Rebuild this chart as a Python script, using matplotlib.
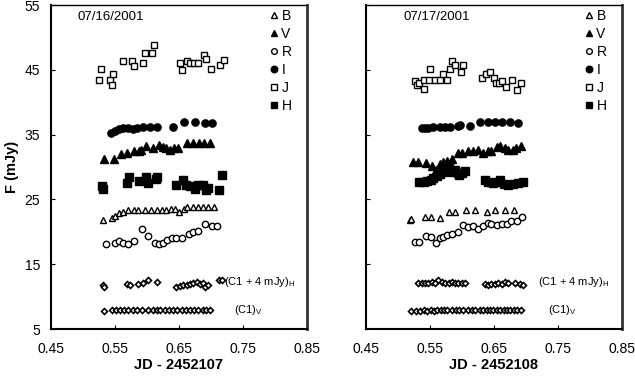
import matplotlib
matplotlib.use("Agg")
import matplotlib.pyplot as plt
from matplotlib.lines import Line2D

plt.rcParams["font.family"] = ["Liberation Sans", "DejaVu Sans"]
plt.rcParams["mathtext.fontset"] = "custom"
plt.rcParams["mathtext.rm"] = "Liberation Sans"

# ---- 07/16/2001 (JD - 2452107) ----
d1_J_x = [0.528, 0.525, 0.542, 0.545, 0.547, 0.563, 0.577, 0.579, 0.594, 0.597, 0.608, 0.611,
          0.652, 0.654, 0.662, 0.667, 0.673, 0.680, 0.689, 0.693, 0.700, 0.714, 0.720]
d1_J_y = [45.2, 43.4, 43.4, 42.7, 44.4, 46.4, 46.4, 45.6, 46.1, 47.6, 47.6, 48.9,
          46.1, 44.9, 46.4, 46.1, 46.1, 46.1, 47.3, 46.6, 45.2, 45.7, 46.5]
d1_I_x = [0.543, 0.550, 0.557, 0.563, 0.571, 0.578, 0.585, 0.594, 0.605, 0.616, 0.641,
          0.658, 0.675, 0.691, 0.701]
d1_I_y = [35.3, 35.6, 35.8, 36.0, 36.0, 35.8, 36.0, 36.1, 36.2, 36.2, 36.2,
          37.0, 37.0, 36.8, 36.8]
d1_V_x = [0.533, 0.548, 0.559, 0.568, 0.579, 0.588, 0.590, 0.598, 0.609, 0.619, 0.625, 0.630,
          0.636, 0.642, 0.649, 0.663, 0.672, 0.682, 0.689, 0.698]
d1_V_y = [31.2, 31.2, 32.0, 32.1, 32.4, 32.4, 32.7, 33.2, 32.9, 33.4, 33.1, 32.9,
          32.6, 32.9, 33.0, 33.7, 33.7, 33.7, 33.7, 33.7]
d1_H_x = [0.529, 0.532, 0.568, 0.572, 0.588, 0.598, 0.602, 0.614, 0.616, 0.646, 0.657, 0.661,
          0.667, 0.675, 0.679, 0.687, 0.692, 0.696, 0.713, 0.718]
d1_H_y = [27.0, 26.6, 27.5, 28.4, 27.9, 28.4, 27.6, 28.1, 28.4, 27.2, 28.0, 27.2,
          27.0, 26.6, 27.2, 27.2, 26.5, 26.7, 26.5, 28.8]
d1_B_x = [0.531, 0.545, 0.550, 0.557, 0.563, 0.571, 0.579, 0.586, 0.597, 0.607, 0.615, 0.623,
          0.630, 0.637, 0.644, 0.650, 0.658, 0.662, 0.672, 0.680, 0.688, 0.696, 0.705]
d1_B_y = [21.8, 22.2, 22.4, 22.9, 23.1, 23.3, 23.3, 23.3, 23.3, 23.3, 23.4, 23.4,
          23.4, 23.5, 23.5, 23.1, 23.5, 23.8, 23.9, 23.9, 23.9, 23.9, 23.9]
d1_R_x = [0.536, 0.550, 0.557, 0.563, 0.571, 0.579, 0.592, 0.602, 0.612, 0.619, 0.625, 0.632,
          0.639, 0.646, 0.654, 0.665, 0.672, 0.680, 0.691, 0.701, 0.710]
d1_R_y = [18.1, 18.3, 18.6, 18.3, 18.1, 18.6, 20.4, 19.4, 18.3, 18.1, 18.3, 18.7,
          19.0, 19.0, 19.0, 19.7, 20.0, 20.2, 21.2, 20.9, 20.9]
d1_C1H_x = [0.531, 0.533, 0.568, 0.573, 0.586, 0.594, 0.602, 0.616, 0.646, 0.652, 0.657, 0.662,
            0.667, 0.672, 0.678, 0.683, 0.687, 0.691, 0.696, 0.713, 0.718]
d1_C1H_y = [11.8, 11.5, 11.9, 11.8, 11.9, 12.1, 12.5, 12.3, 11.5, 11.6, 11.8, 11.8,
            11.9, 12.1, 12.2, 11.9, 12.1, 11.5, 11.8, 12.5, 12.5]
d1_C1V_x = [0.533, 0.545, 0.552, 0.558, 0.564, 0.571, 0.578, 0.585, 0.593, 0.602, 0.609, 0.615,
            0.621, 0.628, 0.635, 0.641, 0.647, 0.654, 0.661, 0.667, 0.673, 0.680, 0.687, 0.693, 0.698]
d1_C1V_y = [7.8, 8.0, 8.0, 7.9, 8.0, 8.0, 8.0, 7.9, 8.0, 8.0, 8.0, 8.0,
            8.0, 8.0, 8.0, 8.0, 8.0, 8.0, 8.0, 8.0, 8.0, 8.0, 8.0, 8.0, 8.0]

# ---- 07/17/2001 (JD - 2452108) ----
d2_J_x = [0.527, 0.530, 0.533, 0.540, 0.541, 0.549, 0.550, 0.558, 0.566, 0.570, 0.577, 0.582,
          0.585, 0.589, 0.598, 0.602, 0.632, 0.637, 0.644, 0.650, 0.653, 0.658, 0.662, 0.669,
          0.678, 0.686, 0.692]
d2_J_y = [43.3, 42.7, 42.9, 42.1, 43.5, 43.5, 45.2, 43.4, 43.4, 44.4, 43.4, 45.2,
          46.4, 45.7, 44.7, 45.7, 43.7, 44.4, 44.6, 43.8, 42.9, 42.9, 43.2, 42.3,
          43.5, 41.9, 43.0]
d2_I_x = [0.537, 0.542, 0.547, 0.555, 0.565, 0.573, 0.581, 0.594, 0.597, 0.613, 0.628,
          0.640, 0.652, 0.662, 0.675, 0.688]
d2_I_y = [36.0, 36.0, 36.0, 36.1, 36.1, 36.2, 36.2, 36.3, 36.5, 36.3, 37.0,
          37.0, 37.0, 37.0, 37.0, 36.8]
d2_V_x = [0.523, 0.532, 0.544, 0.553, 0.560, 0.566, 0.571, 0.576, 0.584, 0.593, 0.600, 0.610,
          0.617, 0.625, 0.633, 0.640, 0.645, 0.654, 0.660, 0.667, 0.672, 0.679, 0.685, 0.692]
d2_V_y = [30.8, 30.7, 30.6, 30.1, 29.6, 30.5, 30.7, 31.0, 31.3, 32.1, 32.2, 32.4,
          32.5, 32.7, 32.1, 32.4, 32.5, 33.1, 33.2, 33.0, 32.7, 32.6, 33.0, 33.2]
d2_H_x = [0.533, 0.540, 0.546, 0.551, 0.555, 0.561, 0.566, 0.571, 0.575, 0.580, 0.584, 0.589,
          0.593, 0.596, 0.600, 0.605, 0.636, 0.641, 0.649, 0.655, 0.659, 0.666, 0.672, 0.680,
          0.688, 0.695]
d2_H_y = [27.7, 27.7, 27.9, 28.0, 28.3, 28.6, 28.9, 29.3, 29.5, 29.8, 29.3, 29.6,
          29.1, 28.8, 29.0, 29.4, 28.0, 27.7, 27.6, 27.7, 28.0, 27.4, 27.2, 27.4,
          27.5, 27.7]
d2_B_x = [0.518, 0.520, 0.542, 0.551, 0.565, 0.579, 0.589, 0.606, 0.620, 0.639, 0.652, 0.667, 0.681]
d2_B_y = [21.8, 21.9, 22.3, 22.3, 22.1, 23.1, 23.1, 23.3, 23.3, 23.1, 23.4, 23.3, 23.3]
d2_R_x = [0.527, 0.533, 0.544, 0.551, 0.560, 0.565, 0.570, 0.577, 0.585, 0.594, 0.601, 0.610,
          0.617, 0.625, 0.633, 0.641, 0.646, 0.654, 0.662, 0.670, 0.677, 0.686, 0.693]
d2_R_y = [18.5, 18.5, 19.4, 19.2, 18.3, 19.0, 19.2, 19.5, 19.7, 19.9, 21.0, 20.8,
          20.9, 20.4, 20.9, 21.4, 21.2, 21.0, 21.2, 21.2, 21.6, 21.7, 22.3]
d2_C1H_x = [0.532, 0.537, 0.542, 0.547, 0.553, 0.558, 0.563, 0.568, 0.573, 0.579, 0.584, 0.589,
            0.594, 0.600, 0.605, 0.636, 0.641, 0.646, 0.652, 0.657, 0.662, 0.667, 0.672, 0.683,
            0.690, 0.696]
d2_C1H_y = [12.1, 12.05, 12.1, 12.1, 12.3, 12.1, 12.6, 12.3, 12.1, 12.1, 12.3, 12.1,
            12.1, 12.1, 12.1, 11.9, 11.8, 11.9, 11.9, 12.05, 11.9, 12.3, 12.05, 12.1,
            11.9, 11.8]
d2_C1V_x = [0.521, 0.528, 0.534, 0.541, 0.546, 0.551, 0.556, 0.561, 0.567, 0.572, 0.577, 0.584,
            0.591, 0.596, 0.601, 0.610, 0.615, 0.620, 0.628, 0.633, 0.639, 0.644, 0.649, 0.654,
            0.659, 0.665, 0.670, 0.675, 0.681, 0.686, 0.692]
d2_C1V_y = [7.8, 7.8, 7.8, 7.9, 7.8, 7.9, 7.8, 7.9, 7.9, 7.9, 7.9, 7.9,
            7.9, 7.9, 7.9, 7.9, 7.9, 7.9, 7.9, 7.9, 7.9, 7.9, 7.9, 7.9,
            7.9, 7.9, 7.9, 7.9, 7.9, 7.9, 7.9]

dates = ["07/16/2001", "07/17/2001"]
xlabels = ["JD - 2452107", "JD - 2452108"]
band_labels = ["B", "V", "R", "I", "J", "H"]

styles = {
    "B": dict(marker="^", mfc="white", ms=4.8),
    "V": dict(marker="^", mfc="black", ms=5.2),
    "R": dict(marker="o", mfc="white", ms=4.6),
    "I": dict(marker="o", mfc="black", ms=5.2),
    "J": dict(marker="s", mfc="white", ms=4.6),
    "H": dict(marker="s", mfc="black", ms=5.2),
    "C1": dict(marker="D", mfc="white", ms=3.0),
}

days = [
    {"B": (d1_B_x, d1_B_y), "V": (d1_V_x, d1_V_y), "R": (d1_R_x, d1_R_y),
     "I": (d1_I_x, d1_I_y), "J": (d1_J_x, d1_J_y), "H": (d1_H_x, d1_H_y),
     "C1H": (d1_C1H_x, d1_C1H_y), "C1V": (d1_C1V_x, d1_C1V_y)},
    {"B": (d2_B_x, d2_B_y), "V": (d2_V_x, d2_V_y), "R": (d2_R_x, d2_R_y),
     "I": (d2_I_x, d2_I_y), "J": (d2_J_x, d2_J_y), "H": (d2_H_x, d2_H_y),
     "C1H": (d2_C1H_x, d2_C1H_y), "C1V": (d2_C1V_x, d2_C1V_y)},
]
label_x = [(0.720, 0.736), (0.718, 0.734)]
date_x = [0.105, 0.148]

fig = plt.figure(figsize=(6.35, 3.79), dpi=100)
axes = [fig.add_axes([0.0803, 0.1319, 0.4031, 0.8549]),
        fig.add_axes([0.5764, 0.1319, 0.4031, 0.8549])]

for k, ax in enumerate(axes):
    d = days[k]
    for b in band_labels:
        st = styles[b]
        ax.plot(d[b][0], d[b][1], ls="none", marker=st["marker"], ms=st["ms"],
                mfc=st["mfc"], mec="black", mew=1.0)
    for key in ["C1H", "C1V"]:
        st = styles["C1"]
        ax.plot(d[key][0], d[key][1], ls="none", marker=st["marker"], ms=st["ms"],
                mfc=st["mfc"], mec="black", mew=1.2)

    ax.set_xlim(0.45, 0.85)
    ax.set_ylim(5, 55)
    ax.set_xticks([0.45, 0.55, 0.65, 0.75, 0.85])
    ax.set_xticklabels(["0.45", "0.55", "0.65", "0.75", "0.85"])
    ax.set_yticks([5, 15, 25, 35, 45, 55])
    ax.tick_params(direction="in", length=3, width=0.8, labelsize=10)
    ax.tick_params(axis="x", pad=9)
    ax.tick_params(axis="y", pad=8)
    if k == 1:
        ax.set_yticklabels([])
    ax.set_xlabel(xlabels[k], fontsize=10.5, fontweight="bold", labelpad=2)

    ax.spines["left"].set_linewidth(1.5)
    ax.spines["bottom"].set_linewidth(1.5)
    ax.spines["top"].set_linewidth(1.0)
    ax.spines["right"].set_linewidth(2.0)
    ax.spines["right"].set_color("#333333")

    ax.text(date_x[k], 0.963, dates[k], transform=ax.transAxes, fontsize=9.5,
            va="center", ha="left")
    ax.text(label_x[k][0], 12.25, r"(C1 + 4 mJy)$_{\rm H}$", fontsize=8, va="center")
    ax.text(label_x[k][1], 7.9, r"(C1)$_{\rm V}$", fontsize=8, va="center")

    handles = [Line2D([], [], ls="none", marker=styles[b]["marker"],
                      ms=styles[b]["ms"] - 0.5, mfc=styles[b]["mfc"], mec="black", mew=1.0)
               for b in band_labels]
    ax.legend(handles, band_labels, loc="upper left", bbox_to_anchor=(0.835, 1.0),
              frameon=False, fontsize=10, handlelength=0.8, handletextpad=0.1,
              labelspacing=0.28, borderpad=0.3, borderaxespad=0)

axes[0].set_ylabel("F (mJy)", fontsize=10.5, fontweight="bold")
axes[0].yaxis.set_label_coords(-0.125, 0.5)

fig.savefig("out.png", dpi=100)
